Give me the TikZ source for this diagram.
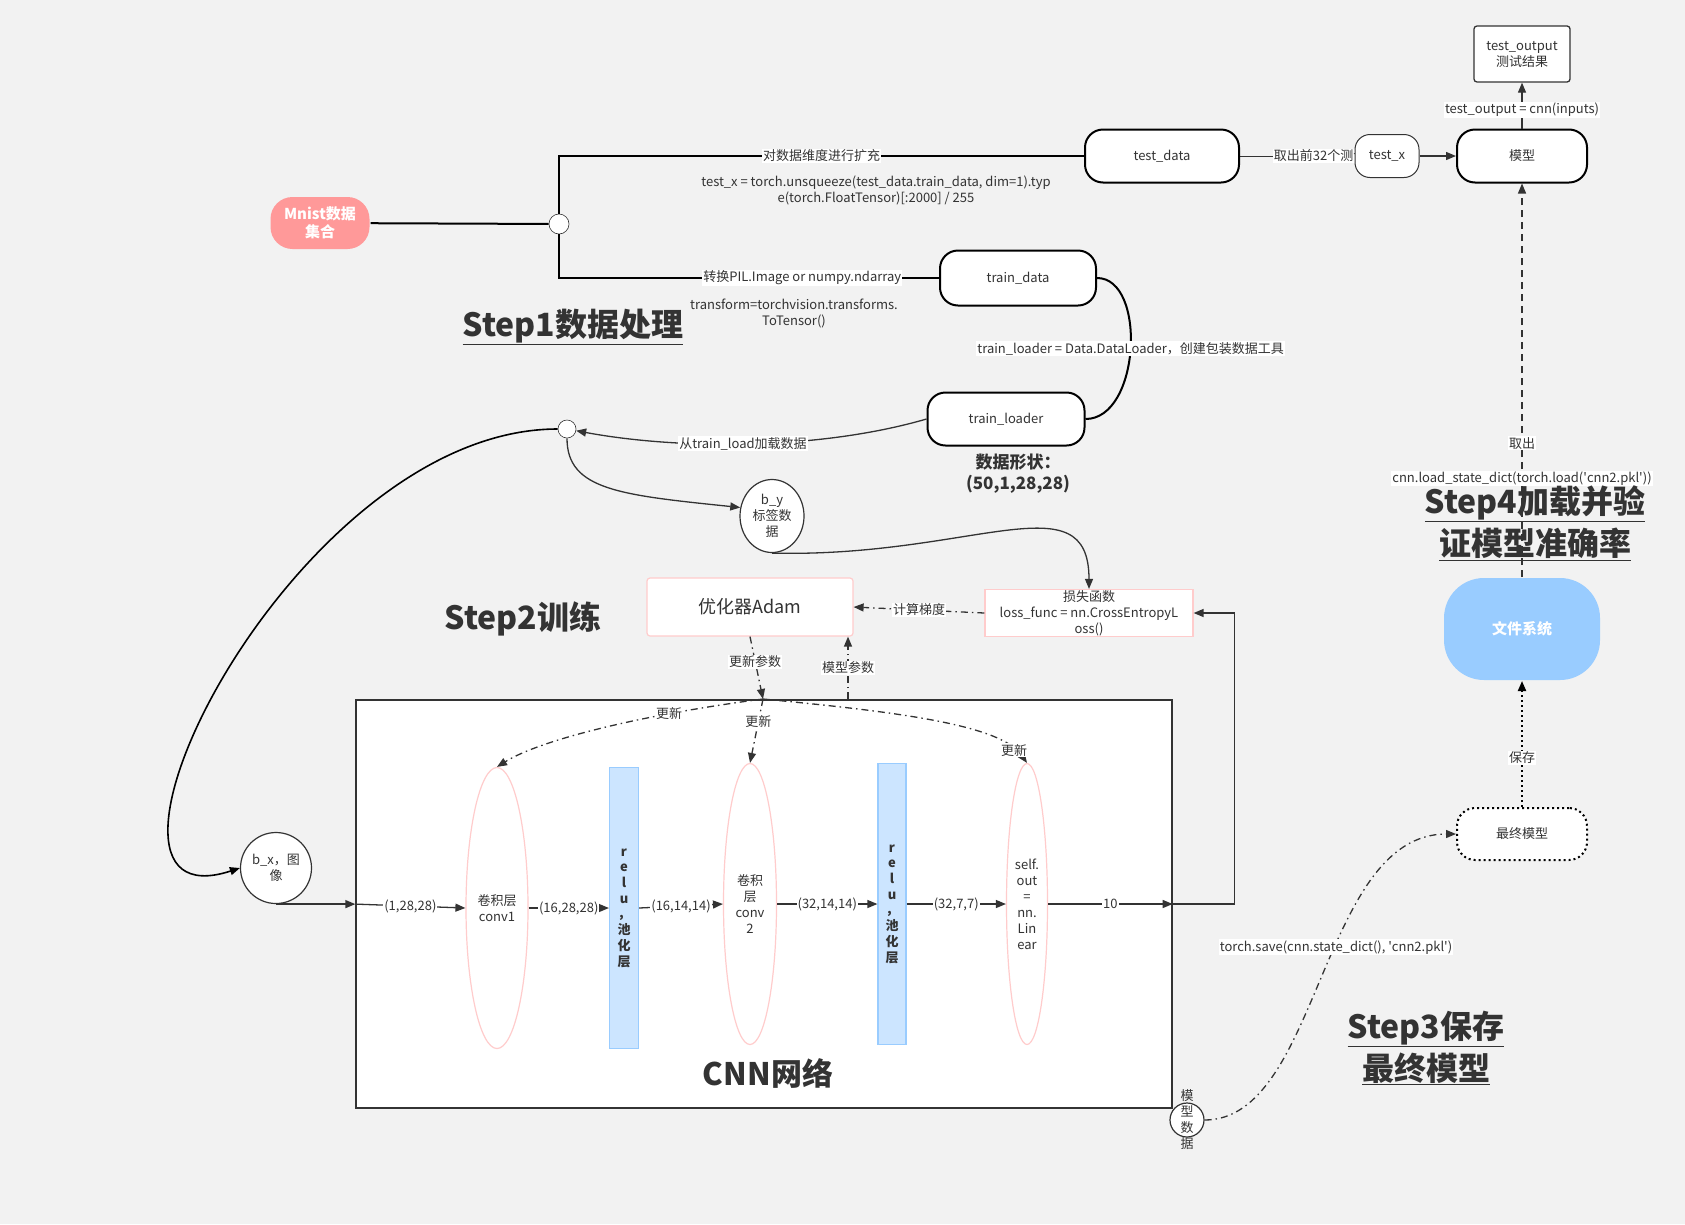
\documentclass[tikz,border=0pt]{standalone}
\usepackage{fontspec}
\setmainfont{Noto Sans CJK SC}
\usetikzlibrary{arrows.meta,shapes.geometric}

\definecolor{bggrey}{HTML}{F2F2F2}
\definecolor{inkgrey}{HTML}{333333}
\definecolor{salmon}{HTML}{FF9999}
\definecolor{pinkline}{HTML}{FFCCCC}
\definecolor{skyfill}{HTML}{99CCFF}
\definecolor{palefill}{HTML}{CCE5FF}

\newcommand{\fsmall}{\fontsize{13}{16}\selectfont}
\newcommand{\fbig}{\fontsize{32}{42}\selectfont\bfseries}
\newcommand{\sq}{\textquotesingle}

\pgfdeclarelayer{back}
\pgfdeclarelayer{under}
\pgfsetlayers{back,under,main}

\tikzset{
  pill/.style={draw=black, line width=2pt, fill=white, rounded corners=18pt, align=center},
  waypt/.style={circle, draw=inkgrey, line width=0.6pt, fill=white, minimum size=20pt, inner sep=0pt},
  convlayer/.style={ellipse, draw=pinkline, line width=1.2pt, fill=white, minimum height=281pt, inner sep=0pt, align=center},
  relubar/.style={rectangle, draw=skyfill, fill=palefill, line width=1.2pt, minimum width=28pt, minimum height=281pt, inner sep=0pt, align=center, font=\fontsize{13}{15.7}\selectfont\bfseries},
  pinkbox/.style={rectangle, draw=pinkline, line width=1.2pt, fill=white, align=center},
  title/.style={font=\fbig, text=inkgrey, align=center},
  lbl/.style={fill=white, inner sep=1pt, font=\fsmall, text=inkgrey},
  thickln/.style={draw=black, line width=2pt},
  arr/.style={draw=inkgrey, line width=1.3pt, -{Triangle[length=10pt,width=8pt]}},
  dda/.style={arr, dash pattern=on 7pt off 4pt on 1.5pt off 4pt},
  dsh/.style={arr, dash pattern=on 7pt off 5pt},
  dts/.style={arr, draw=black, line width=2pt, dash pattern=on 2pt off 3pt}
}

\begin{document}
\begin{tikzpicture}[x=1pt, y=-1pt, font=\fsmall, text=inkgrey]

  \begin{pgfonlayer}{back}
    \fill[bggrey] (0,0) rectangle (1685,1224);
  \end{pgfonlayer}
  \useasboundingbox (0,0) rectangle (1685,1224);

  % Define nodes
  \node[pill, fill=salmon, draw=none, rounded corners=22pt, text=white, font=\fontsize{15}{18}\selectfont\bfseries,
        minimum width=99pt, minimum height=52pt] (mnist) at (320,223) {Mnist数据\\集合};
  \node[waypt] (c1) at (559,224) {};
  \node[pill, minimum width=154pt, minimum height=53pt] (testd) at (1162,156) {test\_data};
  \node[pill, draw=inkgrey, line width=1pt, rounded corners=15pt, minimum width=64pt, minimum height=43pt] (testx) at (1387,156) {test\_x};
  \node[pill, minimum width=130pt, minimum height=53pt] (model) at (1522,156) {模型};
  \node[pill, draw=inkgrey, line width=1.3pt, rounded corners=3pt, minimum width=96pt, minimum height=56pt] (testout) at (1522,54) {test\_output\\测试结果};
  \node at (876,190) [align=center] (code1) {test\_x = torch.unsqueeze(test\_data.train\_data, dim=1).typ\\e(torch.FloatTensor)[:2000] / 255};

  \node[pill, minimum width=156pt, minimum height=55pt] (traind) at (1018,278) {train\_data};
  \node[pill, minimum width=157pt, minimum height=53pt] (loaderd) at (1006,419) {train\_loader};
  \node at (794,314) [align=center] (code2) {transform=torchvision.transforms.\\ToTensor()};
  \node[align=center, font=\fontsize{17}{21}\selectfont\bfseries] (shape) at (1018,474) {数据形状：\\(50,1,28,28)};
  \node[title] (step1) at (573,327) {\underline{Step1数据处理}};

  \node[waypt, minimum size=18pt] (c2) at (567,429) {};
  \node[ellipse, draw=inkgrey, line width=1.2pt, fill=white, inner sep=0pt, minimum width=64pt, minimum height=73pt, align=center] (by) at (772,516) {b\_y\\标签数\\据};
  \node[circle, draw=inkgrey, line width=1.2pt, fill=white, inner sep=0pt, minimum size=71pt, align=center] (bx) at (276,868) {b\_x，图\\像};

  \node[pinkbox, rounded corners=3pt, minimum width=206pt, minimum height=58pt, font=\fontsize{18}{22}\selectfont] (adam) at (750,607) {优化器Adam};
  \node[pinkbox, minimum width=208pt, minimum height=47pt, inner sep=0pt] (loss) at (1089,613) {损失函数\\loss\_func = nn.CrossEntropyL\\oss()};
  \node[title] (step2) at (523,619) {Step2训练};

  \node[rectangle, draw=inkgrey, line width=1.3pt, fill=white, minimum width=816pt, minimum height=408pt] (cnnbox) at (764,904) {};
  \node[convlayer, minimum width=62pt] (conv1) at (497,908) {卷积层\\conv1};
  \node[relubar, minimum width=29pt] (relu1) at (624,908) {r\\e\\l\\u\\，\\池\\化\\层};
  \node[convlayer, minimum width=53pt] (conv2) at (750,904) {卷积\\层\\conv\\2};
  \node[relubar] (relu2) at (892,904) {r\\e\\l\\u\\，\\池\\化\\层};
  \node[convlayer, minimum width=41pt] (lin) at (1027,904) {self.\\out\\=\\nn.\\Lin\\ear};
  \node[title, font=\fontsize{31}{42}\selectfont\bfseries] (cnnttl) at (768,1073) {CNN网络};
  \coordinate (split) at (763,699);
  \coordinate (mparam) at (848,699);

  \node[circle, draw=inkgrey, line width=1.2pt, fill=white, inner sep=0pt, minimum size=34pt,
        label={[align=center, font=\fontsize{13}{16}\selectfont]center:模\\型\\数\\据}] (mdata) at (1187,1120) {};
  \node[pill, draw=black, dash pattern=on 2pt off 3pt, minimum width=130pt, minimum height=52pt] (final) at (1522,834) {最终模型};
  \node[pill, fill=skyfill, draw=none, rounded corners=40pt, text=white, font=\fontsize{15}{18}\selectfont\bfseries,
        minimum width=156pt, minimum height=102pt] (fsys) at (1522,629) {文件系统};
  \node[title] (step3) at (1426,1048) {\underline{Step3保存}\\\underline{最终模型}};

  % Connect the nodes
  \draw[thickln] (mnist) -- (c1);
  \draw[thickln] (c1) |- node[lbl, pos=0.75] {对数据维度进行扩充} (testd);
  \draw[thickln] (c1) |- node[lbl, pos=0.82] {转换PIL.Image or numpy.ndarray} (traind);
  \begin{pgfonlayer}{under}
    \draw[draw=inkgrey, line width=1pt] (testd) -- node[lbl, pos=0.7] {取出前32个测试} (testx);
  \end{pgfonlayer}
  \draw[arr] (testx) -- (model);
  \draw[arr] (model) -- node[lbl, pos=0.4] {test\_output = cnn(inputs)} (testout);
  \draw[thickln] (traind.east) .. controls +(50,0) and +(55,0) .. node[lbl] {train\_loader = Data.DataLoader，创建包装数据工具} (loaderd.east);
  \draw[arr] (loaderd.west) .. controls (820,450) and (680,450) .. node[lbl, pos=0.52] {从train\_load加载数据} (c2);
  \draw[arr] (c2) .. controls (567,490) and (620,495) .. (by.165);
  \draw[arr, draw=black, line width=1.6pt] (c2) .. controls (290,429) and (50,930) .. (bx.west);
  \draw[arr] (by.south) .. controls +(200,5) and +(0,-110) .. (loss.north);

  \draw[dda] (loss.west) -- node[lbl] {计算梯度} (adam.east);
  \draw[dda] (adam.south) -- node[lbl, pos=0.4] {更新参数} (split);
  \draw[dda] (mparam) -- node[lbl] {模型参数} (mparam |- adam.south);
  \draw[dda] (split) .. controls (640,715) and (540,740) .. node[lbl, pos=0.27] {更新} (conv1.north);
  \draw[dda] (split) -- node[lbl, pos=0.35] {更新} (conv2.north);
  \draw[dda] (split) .. controls (900,712) and (1000,725) .. node[lbl, pos=0.88] {更新} (lin.north);

  \draw[arr] (bx.south) -- (bx.south -| cnnbox.west);
  \draw[arr] (bx.south -| cnnbox.west) -- node[lbl] {(1,28,28)} (conv1.west);
  \draw[arr] (conv1.east) -- node[lbl] {(16,28,28)} (relu1.west);
  \draw[arr] (relu1.east) -- node[lbl] {(16,14,14)} (conv2.west);
  \draw[arr] (conv2.east) -- node[lbl] {(32,14,14)} (relu2.west);
  \draw[arr] (relu2.east) -- node[lbl] {(32,7,7)} (lin.west);
  \draw[arr] (lin.east) -- node[lbl] {10} (lin.east -| cnnbox.east);
  \draw[arr] (lin.east -| cnnbox.east) -- ++(62,0) |- (loss.east);

  \draw[dda] (mdata) .. controls (1320,1120) and (1320,834) .. node[lbl, pos=0.57] {torch.save(cnn.state\_dict(), \sq cnn2.pkl\sq)} (final.west);
  \draw[dts] (final) -- node[lbl, pos=0.39] {保存} (fsys);
  \draw[dsh] (fsys) -- node[lbl, pos=0.34] {取出} node[lbl, pos=0.25] {cnn.load\_state\_dict(torch.load(\sq cnn2.pkl\sq))} (model);
  \node[title] (step4) at (1535,523) {\underline{Step4加载并验}\\\underline{证模型准确率}};

\end{tikzpicture}
\end{document}
